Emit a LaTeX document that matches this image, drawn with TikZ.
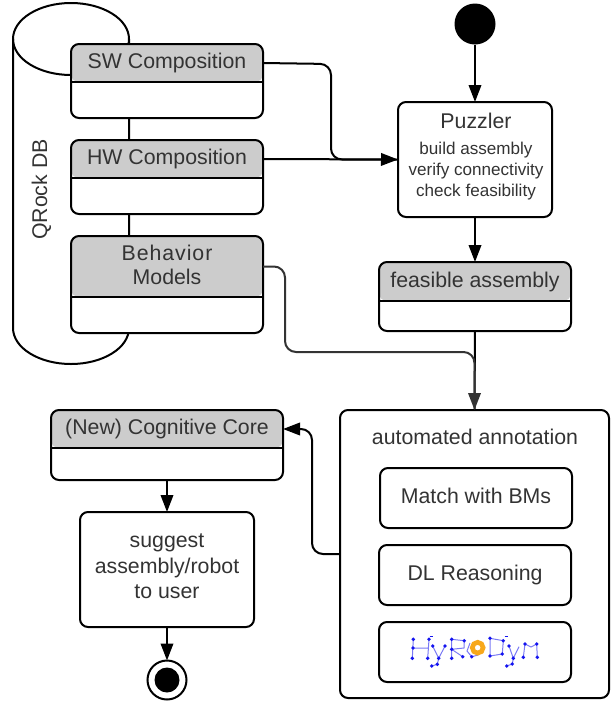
\documentclass[tikz,border=0pt]{standalone}
\usepackage{fontspec}
\setmainfont{Liberation Sans}
\usetikzlibrary{arrows.meta}
\definecolor{hdrgray}{HTML}{CCCCCC}
\definecolor{inkgray}{HTML}{333333}
\definecolor{logoblue}{HTML}{1414F0}
\definecolor{logoline}{HTML}{7A7AF5}
\definecolor{logoring}{HTML}{F7A81B}
\tikzset{
  every node/.style={inner sep=0pt,outer sep=0pt},
  txt/.style={text=inkgray,font=\fontsize{21.3}{25.5}\selectfont,align=center},
  small/.style={text=inkgray,font=\fontsize{17.1}{21}\selectfont,align=center},
  box/.style={draw=black,line width=2pt,rounded corners=8pt,fill=white},
  hdrbox/.style={box,path picture={\fill[hdrgray] (path picture bounding box.north west) rectangle ([yshift=-#1 pt]path picture bounding box.north east);}},
  conn/.style={draw=black,line width=2pt,rounded corners=11pt},
  flow/.style={conn,-{Triangle[length=17pt,width=12.5pt]}},
  gflow/.style={flow,draw=inkgray},
  onetext/.style={text height=15pt,text depth=4pt}
}
\newcommand{\umlbox}[7]{%
  \node[hdrbox=#6,minimum width={(#4-#2)*1pt},minimum height={(#5-#3)*1pt}] (#1) at ({(#2+#4)/2},{(#3+#5)/2}) {};
  \node[txt,minimum width={(#4-#2)*1pt},minimum height={#6*1pt}] (#1h) at ({(#2+#4)/2},{#3+#6/2}) {#7};
  \draw[line width=2pt] (#1h.south west) -- (#1h.south east);
}
\begin{document}
\begin{tikzpicture}[x=1pt,y=-1pt]
\useasboundingbox (0,0) rectangle (614,702);
% cylinder
\draw[line width=2pt,fill=white] (71,39) ellipse [x radius=58pt,y radius=36pt];
\draw[line width=2pt] (13,39) -- (13,328) arc[start angle=180,end angle=360,x radius=58pt,y radius=36pt] -- (129,39);
\node[txt,rotate=90] (qrock) at (41.5,189.5) {QRock DB};
% boxes
\umlbox{sw}{71}{44}{263}{118}{38}{\rule[-4pt]{0pt}{19pt}SW Composition}
\umlbox{hw}{71}{140}{263}{214}{38}{\rule[-4pt]{0pt}{19pt}HW Composition}
\umlbox{beh}{71}{236}{263}{333}{61}{{\addfontfeature{LetterSpace=4.5}Behavior}\\[-1.5pt]Models\rule[-4pt]{0pt}{4pt}}
\umlbox{fea}{379}{262}{571}{331}{39}{\raisebox{1.5pt}{\rule[-4pt]{0pt}{19pt}feasible assembly}}
\umlbox{cog}{51}{410}{283}{480}{38}{\rule[-4pt]{0pt}{19pt}(New) Cognitive Core}
\node[box,minimum width=154pt,minimum height=115pt] (puz) at (475,159.5) {};
\node[txt,anchor=base] (puzt) at (476,128) {Puzzler};
\node[small,anchor=base] (puzl) at (476,154) {build assembly};
\node[small,anchor=base] (puzm) at (476,175) {verify connectivity};
\node[small,anchor=base] (puzn) at (476,196) {check feasibility};
\node[box,minimum width=269pt,minimum height=288pt] (ann) at (474.5,554) {};
\node[txt,anchor=base] (annt) at (475,444) {automated annotation};
\node[box,txt,onetext,minimum width=192pt,minimum height=60pt] (mat) at (476,498) {Match with BMs};
\node[box,txt,onetext,minimum width=192pt,minimum height=60pt] (dl) at (475,575) {DL Reasoning};
\node[box,minimum width=192pt,minimum height=60pt] (hyr) at (475,652) {};
\node[box,txt,minimum width=174pt,minimum height=115pt] (sug) at (167,569.5) {suggest\\assembly/robot\\to user\rule[-6pt]{0pt}{6pt}};
\node[circle,fill=black,minimum size=41pt] (start) at (475,24) {};
\node[circle,draw=black,line width=2pt,fill=white,minimum size=39pt] (endo) at (167,680) {};
\node[circle,fill=black,minimum size=25pt] (endi) at (167,680) {};
% logo
\begin{scope}[draw=logoline,line width=1pt]
\draw (413.3,639.3) -- (412.3,658.3) (429,639.3) -- (427.7,658.3) (413,648) -- (428.5,648);
\draw (432.7,646) -- (438.7,658.3) -- (437.3,664.3) -- (431.7,666) (445,646) -- (438.7,658.3);
\draw (451.7,639.3) -- (451.7,658.3) (451.7,639.3) -- (464.3,640.7) -- (464,648) -- (451.7,649.3) -- (462.7,656.7);
\draw (470,643) -- (467,651) -- (471.7,656.7) -- (478.3,655);
\draw (490,638.3) -- (490,656) -- (502.3,654) -- (503.3,640.7) -- (490,638.3);
\draw (509,646) -- (513.3,658.3) -- (512.3,664) -- (506.7,666) (519,646.7) -- (513.3,658.3);
\draw (523.3,657.3) -- (525,644) -- (531,647) -- (536.7,644) -- (537.3,657.3);
\end{scope}
\foreach \px/\py in {413.3/639.3,412.3/658.3,429/639.3,427.7/658.3,413/648,432.7/646,438.7/658.3,437.3/664.3,431.7/666,445/646,451.7/639.3,451.7/658.3,464.3/640.7,451.7/649.3,462.7/656.7,471.7/656.7,490/638.3,490/656,502.3/654,503.3/640.7,509/646,513.3/658.3,512.3/664,506.7/666,525/644,523.3/657.3,536.7/644,537.3/657.3}
  \fill[logoblue] (\px,\py) circle[radius=1.9pt];
\draw[logoblue,line width=0.8pt] (429.5,636) -- (433,636) (504.5,636) -- (508,636);
\draw[logoring,line width=4.7pt] (477.7,647.7) circle[radius=5.4pt];
% connectors
\coordinate (swbend) at (331,64);
\coordinate (swdown) at (331,159.5);
\coordinate (behbend) at (285,352);
\coordinate (annout) at (340,554);
\coordinate (cogbend) at (312,554);
\draw[conn] (swh.east) -- (swbend) -- (swdown) -- (puz.west);
\draw[flow] (hwh.east) -- (puz.west);
\draw[flow] (start) -- (puz.north);
\draw[flow] (puz.south) -- (fea.north);
\draw[conn] (fea.south) -- (ann.north);
\coordinate (junc) at (ann.north |- behbend);
\draw[gflow] (behh.east) -- (behh.east -| behbend) -- (behbend) -- (junc) -- (ann.north);
\draw[flow] (annout) -- (cogbend) -- (cogbend |- cogh.east) -- (cogh.east);
\draw[flow] (cog.south) -- (sug.north);
\draw[flow] (sug.south) -- (endo.north);
\end{tikzpicture}
\end{document}
